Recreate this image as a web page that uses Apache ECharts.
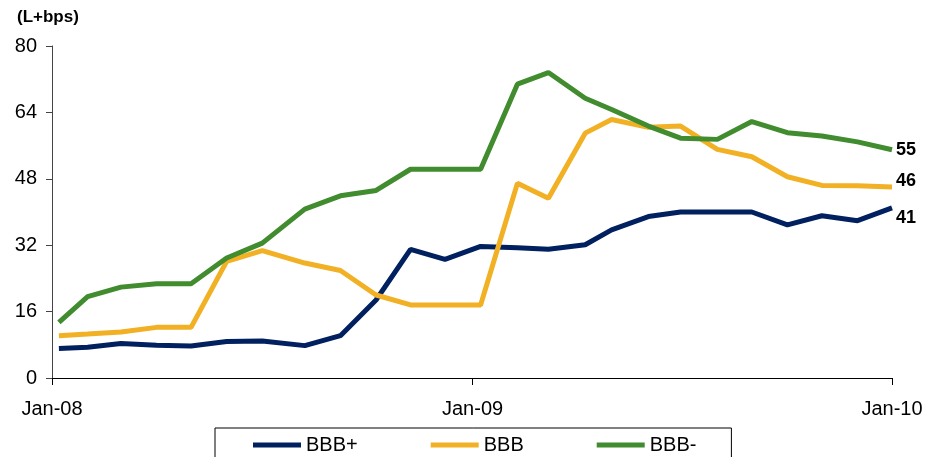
<!DOCTYPE html>
<html>
<head>
<meta charset="utf-8">
<script src="https://cdn.jsdelivr.net/npm/echarts@6/dist/echarts.min.js"></script>
<style>
  html, body { margin: 0; padding: 0; background: #fff; }
  #chart { width: 944px; height: 457px; }
</style>
</head>
<body>
<div id="chart"></div>
<script>
// Observation dates (irregular, roughly monthly)
const dates = [
  '2008-01-07', '2008-02-01', '2008-03-01', '2008-04-01', '2008-05-01', '2008-06-01',
  '2008-07-02', '2008-08-08', '2008-09-08', '2008-10-09', '2008-11-08', '2008-12-08',
  '2009-01-08', '2009-02-09', '2009-03-08', '2009-04-09', '2009-05-02', '2009-06-03',
  '2009-07-01', '2009-08-02', '2009-09-01', '2009-10-02', '2009-11-01', '2009-12-02',
  '2010-01-01'
];

// Spreads over LIBOR, in basis points
const bbbPlus = [7.1, 7.4, 8.3, 7.9, 7.7, 8.8, 8.9, 7.8, 10.2, 18.8, 31.0, 28.6, 31.7,
                 31.4, 31.0, 32.1, 35.7, 38.9, 40.0, 40.0, 40.0, 36.9, 39.1, 37.9, 41];
const bbb     = [10.2, 10.6, 11.1, 12.2, 12.2, 28.1, 30.7, 27.7, 25.9, 20.0, 17.6, 17.6, 17.6,
                 46.9, 43.3, 59.0, 62.3, 60.4, 60.7, 55.1, 53.3, 48.5, 46.4, 46.3, 46];
const bbbMinus = [13.4, 19.6, 21.9, 22.7, 22.7, 28.9, 32.5, 40.7, 43.9, 45.2, 50.3, 50.3, 50.3,
                  70.8, 73.6, 67.4, 64.7, 60.7, 57.8, 57.5, 61.8, 59.1, 58.3, 56.9, 55];

const seriesNames = ['BBB+', 'BBB', 'BBB-'];
const seriesColors = ['#00205f', '#f2b024', '#408c2e'];

// Year ticks on the date axis
const tickYears = [2008, 2009, 2010];

const toTime = s => {
  const [y, m, d] = s.split('-').map(Number);
  return Date.UTC(y, m - 1, d);
};
const yearTicks = tickYears.map(y => Date.UTC(y, 0, 1));
const pair = vals => dates.map((d, i) => [toTime(d), vals[i]]);

const FONT = 'Liberation Sans, Arial, sans-serif';

function lineSeries(name, vals, color, labelOffset) {
  return {
    name: name,
    type: 'line',
    data: pair(vals),
    symbol: 'none',
    color: color,
    lineStyle: { width: 5, color: color },
    endLabel: {
      show: true,
      formatter: p => String(Math.round(p.value[1])),
      color: '#000',
      fontWeight: 'bold',
      fontSize: 18,
      fontFamily: FONT,
      distance: 4,
      offset: labelOffset
    }
  };
}

const chart = echarts.init(document.getElementById('chart'), null, { renderer: 'canvas' });
chart.setOption({
  animation: false,
  backgroundColor: '#fff',
  textStyle: { fontFamily: FONT },
  grid: { left: 52, right: 52, top: 46, bottom: 79, containLabel: false },
  graphic: [{
    type: 'text',
    left: 17,
    top: 9,
    style: {
      text: '(L+bps)',
      fontSize: 17,
      fontWeight: 'bold',
      fill: '#000',
      fontFamily: FONT
    }
  }],
  legend: {
    data: seriesNames,
    left: 215,
    top: 428,
    icon: 'rect',
    itemWidth: 48,
    itemHeight: 5,
    itemGap: 73,
    padding: [7, 35, 10, 38],
    borderColor: '#000',
    borderWidth: 1,
    textStyle: { fontSize: 20, color: '#000' }
  },
  xAxis: {
    type: 'value',
    min: yearTicks[0],
    max: yearTicks[2],
    axisLine: { show: true, lineStyle: { color: '#000', width: 1 } },
    axisTick: { show: true, length: 7, lineStyle: { color: '#000' }, customValues: yearTicks },
    splitLine: { show: false },
    axisLabel: {
      customValues: yearTicks,
      fontSize: 20,
      color: '#000',
      margin: 21,
      formatter: v => 'Jan-' + String(new Date(v).getUTCFullYear()).slice(2)
    }
  },
  yAxis: {
    type: 'value',
    min: 0,
    max: 80,
    interval: 16,
    axisLine: { show: true, lineStyle: { color: '#444', width: 1 } },
    axisTick: { show: true, length: 6, lineStyle: { color: '#444' } },
    splitLine: { show: false },
    axisLabel: { fontSize: 20, color: '#000', margin: 15 }
  },
  series: [
    lineSeries(seriesNames[0], bbbPlus, seriesColors[0], [0, 10]),
    lineSeries(seriesNames[1], bbb, seriesColors[1], [0, -6]),
    lineSeries(seriesNames[2], bbbMinus, seriesColors[2], [0, 0])
  ]
});
</script>
</body>
</html>
